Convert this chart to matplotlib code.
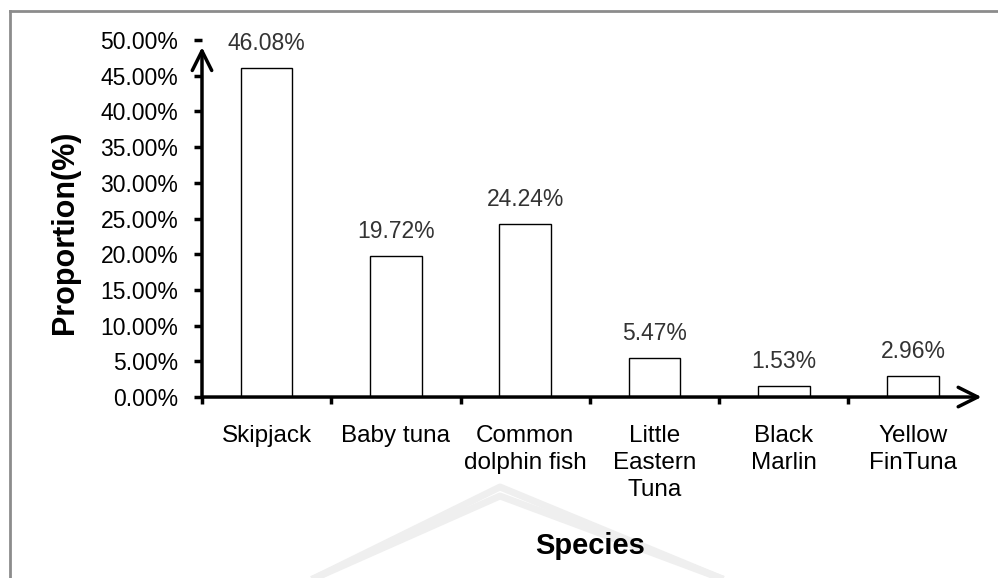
import matplotlib
matplotlib.use('Agg')
import matplotlib.pyplot as plt
from matplotlib.lines import Line2D
import numpy as np

#数据
species = ['Skipjack', 'Baby tuna', 'Common\ndolphin fish', 'Little\nEastern\nTuna',
           'Black\nMarlin', 'Yellow\nFinTuna']
proportion = [0.4608, 0.1972, 0.2424, 0.0547, 0.0153, 0.0296]
bar_labels = ['46.08%', '19.72%', '24.24%', '5.47%', '1.53%', '2.96%']
yticks = [0.0, 0.05, 0.10, 0.15, 0.20, 0.25, 0.30, 0.35, 0.40, 0.45, 0.50]

plt.rcParams['font.family'] = ['Liberation Sans', 'DejaVu Sans']

fig = plt.figure(figsize=(9.98, 5.78), dpi=100)

#背景水印(淡灰色)
for dy in (0, 9):
    fig.add_artist(Line2D([315 / 998, 500 / 998, 720 / 998],
                          [0, 1 - (487 + dy) / 578, 0],
                          transform=fig.transFigure, color='#efefef', lw=5, zorder=0))

ax = fig.add_axes([0.2024, 0.3131, 0.7772, 0.6177])
ax.patch.set_alpha(0)

x = np.arange(len(species))
ax.bar(x, proportion, width=0.4, color='white', edgecolor='black', linewidth=1.0, zorder=2)
for xi, v, s in zip(x, proportion, bar_labels):
    ax.annotate(s, (xi, v), xytext=(0, 13), textcoords='offset points',
                ha='center', va='baseline', fontsize=16.5, color='#333333')

ax.set_xlim(-0.5, 5.5)
ax.set_ylim(0, 0.5)
ax.set_yticks(yticks)
ax.set_yticklabels(['%.2f%%' % (t * 100) for t in yticks], fontsize=16.5)
ax.tick_params(axis='y', direction='out', length=6, width=2.5, pad=11)

ax.set_xticks(x)
ax.set_xticklabels(species, fontsize=17.5, linespacing=1.3)
ax.tick_params(axis='x', which='major', length=0, pad=20)
ax.set_xticks(np.arange(-0.5, 5.0, 1.0), minor=True)
ax.tick_params(axis='x', which='minor', direction='out', length=5, width=2.5)

for sp in ax.spines.values():
    sp.set_visible(False)

#坐标轴箭头
ax.annotate('', xy=(-0.5, 0.49), xytext=(-0.5, 0), xycoords='data',
            arrowprops=dict(arrowstyle='->,head_length=0.7,head_width=0.35',
                            lw=2.5, color='black', mutation_scale=20,
                            shrinkA=0, shrinkB=0), annotation_clip=False)
ax.annotate('', xy=(5.53, 0), xytext=(-0.5, 0), xycoords='data',
            arrowprops=dict(arrowstyle='->,head_length=0.7,head_width=0.35',
                            lw=2.5, color='black', mutation_scale=20,
                            shrinkA=0, shrinkB=0), annotation_clip=False)

ax.set_ylabel('Proportion(%)', fontsize=22, fontweight='bold')
ax.yaxis.set_label_coords(-0.157, 0.46)
ax.set_xlabel('Species', fontsize=21, fontweight='bold')
ax.xaxis.set_label_coords(0.5, -0.378)

#外框
fig.add_artist(Line2D([10 / 998, 1.0], [1 - 11 / 578, 1 - 11 / 578],
                      transform=fig.transFigure, color='#8c8c8c', lw=2))
fig.add_artist(Line2D([10 / 998, 10 / 998], [0, 1 - 11 / 578],
                      transform=fig.transFigure, color='#8c8c8c', lw=2))

plt.savefig('out.png', dpi=100)
